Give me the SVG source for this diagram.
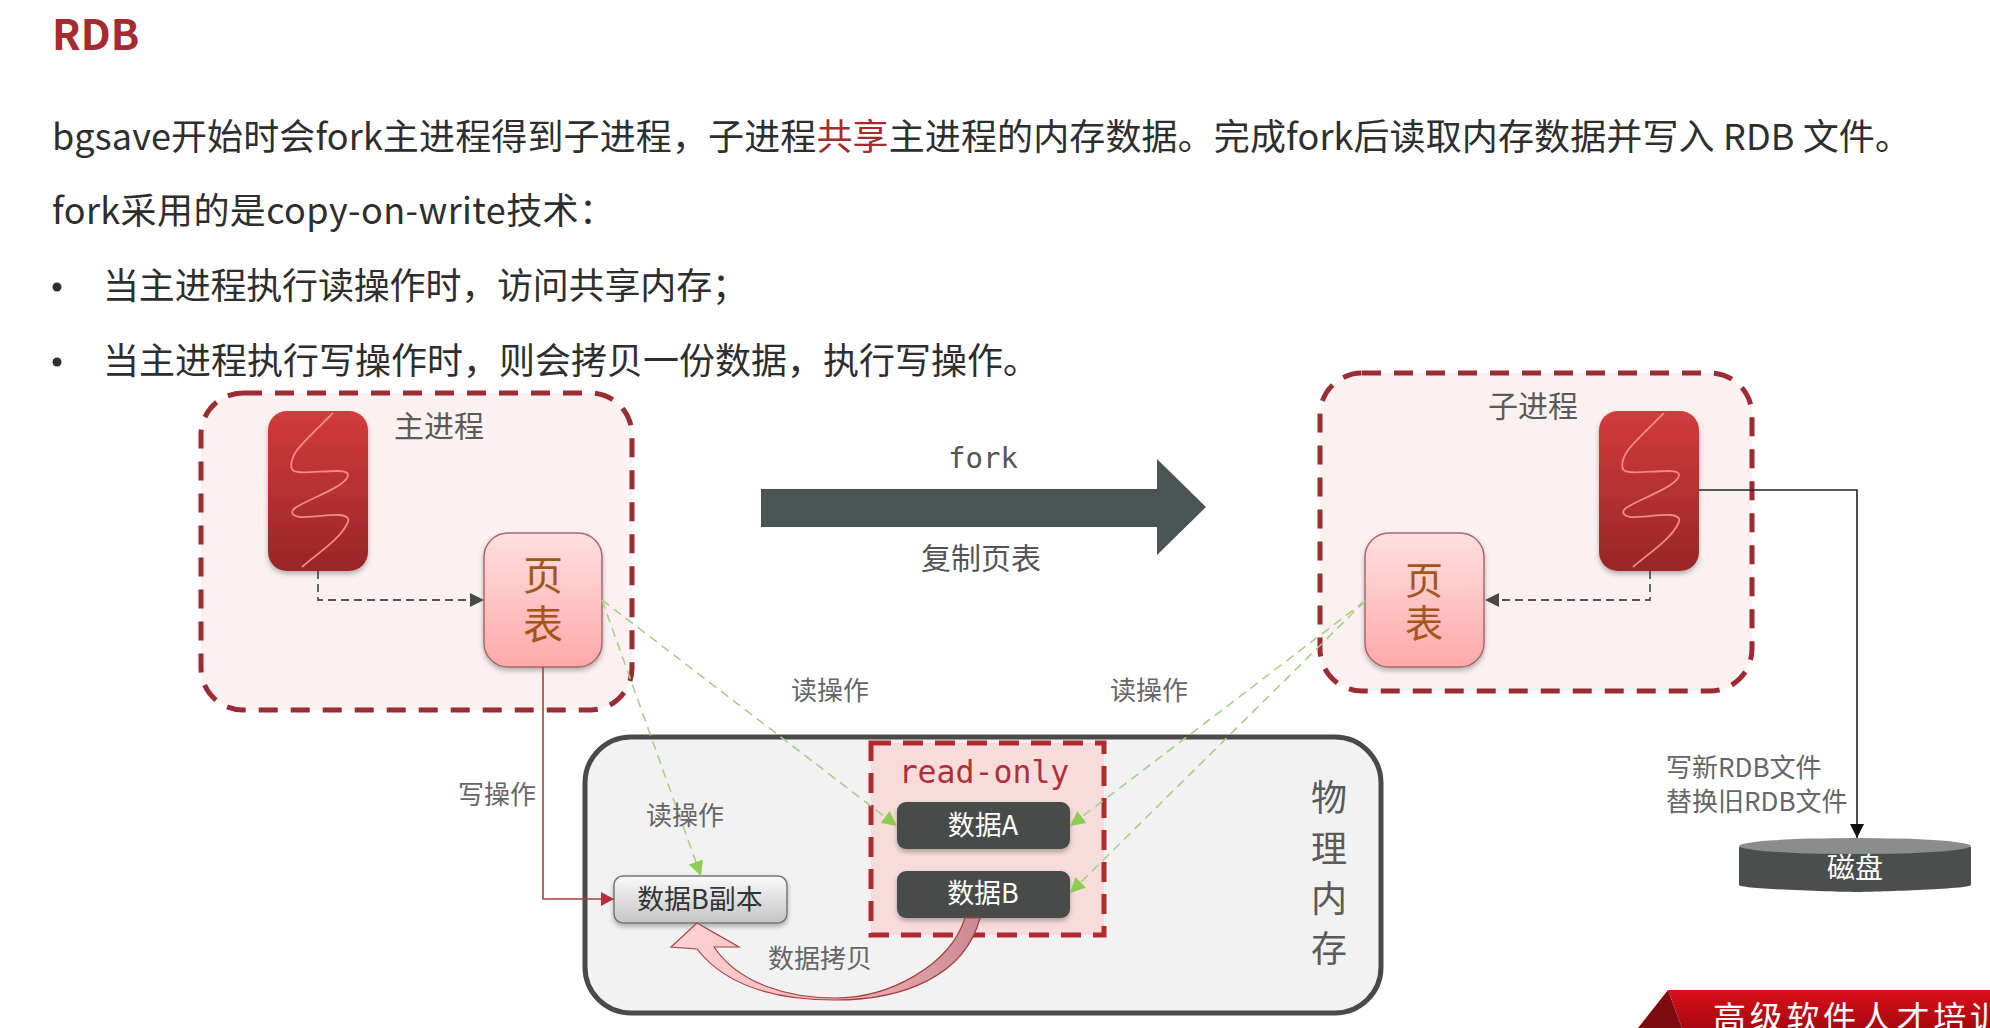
<svg xmlns="http://www.w3.org/2000/svg" width="1990" height="1028" viewBox="0 0 1990 1028">
<style>
text{font-family:"Noto Sans CJK SC","Noto Sans",sans-serif}
.body{font-size:36px;fill:#2e2e2e}
.lab{font-size:26px;fill:#666;text-anchor:middle}
.proc{font-size:30px;fill:#5a5a5a;text-anchor:middle}
.pt{font-size:40px;fill:#a4551c;writing-mode:vertical-rl}
.wh{font-size:27px;fill:#fff;text-anchor:middle}
.mono{font-family:"DejaVu Sans Mono","Liberation Mono",monospace;text-anchor:middle}
.dashbox{fill:#fbf1f0;stroke:#9c2b33;stroke-width:5;stroke-dasharray:19 13}
.ptbox{fill:url(#gPt);stroke:#a9686c;stroke-width:1.5;filter:url(#sh)}
.data{fill:#464b4a;filter:url(#sh)}
.green{fill:none;stroke:#a9cf8a;stroke-width:1.6;stroke-dasharray:9 6;marker-end:url(#mG)}
.grey{fill:none;stroke:#555;stroke-width:1.8;stroke-dasharray:8 5;marker-end:url(#mD)}
.dot{fill:#2e2e2e}
</style>
<defs>
<linearGradient id="gTh" x1="0" y1="0" x2="0" y2="1"><stop offset="0" stop-color="#d23b3b"/><stop offset="1" stop-color="#982628"/></linearGradient>
<linearGradient id="gPt" x1="0" y1="0" x2="0" y2="1"><stop offset="0" stop-color="#ffe0e0"/><stop offset="1" stop-color="#ffa8a8"/></linearGradient>
<linearGradient id="gCp" x1="0" y1="0" x2="0" y2="1"><stop offset="0" stop-color="#fafafa"/><stop offset="1" stop-color="#c4c4c4"/></linearGradient>
<linearGradient id="gCv" x1="0" y1="0" x2="1" y2="0"><stop offset="0" stop-color="#ffd4d4"/><stop offset="0.6" stop-color="#eeb0b4"/><stop offset="1" stop-color="#c98a90"/></linearGradient>
<linearGradient id="gBn" x1="0" y1="0" x2="0" y2="1"><stop offset="0" stop-color="#d90f18"/><stop offset="1" stop-color="#a80810"/></linearGradient>
<filter id="sh" x="-20%" y="-20%" width="140%" height="140%"><feDropShadow dx="0" dy="3" stdDeviation="2.5" flood-color="#000" flood-opacity="0.28"/></filter>
<marker id="mG" markerUnits="userSpaceOnUse" markerWidth="18" markerHeight="18" refX="15" refY="7.5" orient="auto"><path d="M0 0L15 7.5L0 15Z" fill="#8fcc4f"/></marker>
<marker id="mD" markerUnits="userSpaceOnUse" markerWidth="16" markerHeight="16" refX="14" refY="7" orient="auto"><path d="M0 0L14 7L0 14Z" fill="#4a4a4a"/></marker>
<marker id="mR" markerUnits="userSpaceOnUse" markerWidth="16" markerHeight="16" refX="13" refY="7" orient="auto"><path d="M0 0L13 7L0 14Z" fill="#b03038"/></marker>
<marker id="mK" markerUnits="userSpaceOnUse" markerWidth="16" markerHeight="16" refX="14" refY="7" orient="auto"><path d="M0 0L14 7L0 14Z" fill="#111"/></marker>
<g id="thread">
<rect x="0" y="0" width="100" height="160" rx="19" fill="url(#gTh)" filter="url(#sh)"/>
<path d="M65 2C50 17 36 30 29 39C24 46 22 54 24 58C26 64 50 60 69 60C78 60 82 62 79 67C72 78 40 88 27 97C22 101 24 105 32 106C45 107 60 103 72 104C80 105 82 108 79 113C72 128 50 142 34 156" fill="none" stroke="#f48a80" stroke-width="1.8"/>
</g>
</defs>

<rect width="1990" height="1028" fill="#fff"/>

<g id="heading">
<text x="52" y="50" font-size="42" font-weight="700" fill="#a62b2e">RDB</text>
<text class="body" x="52" y="150" textLength="1859">bgsave开始时会fork主进程得到子进程，子进程<tspan fill="#a62b2e">共享</tspan>主进程的内存数据。完成fork后读取内存数据并写入 RDB 文件。</text>
<text class="body" x="52" y="224" textLength="563">fork采用的是copy-on-write技术：</text>
<circle class="dot" cx="57" cy="287" r="4.5"/>
<text class="body" x="103" y="299" textLength="645">当主进程执行读操作时，访问共享内存；</text>
<circle class="dot" cx="57" cy="362" r="4.5"/>
<text class="body" x="103" y="374" textLength="936">当主进程执行写操作时，则会拷贝一份数据，执行写操作。</text>
</g>

<g id="main-process">
<rect class="dashbox" x="201" y="393" width="431" height="317" rx="42"/>
<text class="proc" x="439" y="437">主进程</text>
</g>
<g id="main-thread"><use href="#thread" x="268" y="411"/></g>
<g id="main-page-table">
<rect class="ptbox" x="484" y="533" width="118" height="134" rx="24"/>
<text class="pt" x="543" y="555" letter-spacing="9">页表</text>
</g>

<g id="child-process">
<rect class="dashbox" x="1320" y="373" width="432" height="318" rx="42"/>
<text class="proc" x="1533" y="417">子进程</text>
</g>
<g id="child-thread"><use href="#thread" x="1599" y="411"/></g>
<g id="child-page-table">
<rect class="ptbox" x="1365" y="533" width="119" height="134" rx="24"/>
<text class="pt" x="1424" y="561" letter-spacing="5" style="font-size:38px">页表</text>
</g>

<g id="fork-arrow">
<path d="M761 489H1157V459L1206 507L1157 555V527H761Z" fill="#4a5553"/>
<text class="mono" x="983" y="468" font-size="29" fill="#555">fork</text>
<text class="lab" x="981" y="569" style="font-size:30px;fill:#555">复制页表</text>
</g>

<g id="physical-memory">
<rect x="585" y="737" width="796" height="276" rx="46" fill="#f2f2f2" stroke="#4a4a4a" stroke-width="5"/>
<text class="proc" x="1329" y="811" style="font-size:36px">物<tspan x="1329" dy="51">理</tspan><tspan x="1329" dy="50">内</tspan><tspan x="1329" dy="50">存</tspan></text>
</g>

<g id="read-only">
<rect x="871" y="743" width="233" height="192" fill="#f8dcdc" stroke="#b02a30" stroke-width="5" stroke-dasharray="20 12"/>
<text class="mono" x="984" y="783" font-size="31.5" fill="#b03038">read-only</text>
</g>
<g id="data-a">
<rect class="data" x="897" y="802" width="173" height="47" rx="9"/>
<text class="wh" x="983" y="835">数据A</text>
</g>
<g id="data-b">
<rect class="data" x="897" y="871" width="173" height="47" rx="9"/>
<text class="wh" x="983" y="903">数据B</text>
</g>
<g id="data-b-copy">
<rect x="614" y="876" width="173" height="47" rx="9" fill="url(#gCp)" stroke="#777" stroke-width="1.5" filter="url(#sh)"/>
<text x="700" y="909" font-size="27" fill="#333" text-anchor="middle">数据B副本</text>
</g>

<g id="disk">
<path d="M1739 847V885C1739 889 1840 892 1855 892C1870 892 1971 889 1971 885V847Z" fill="#4a4f4e"/>
<ellipse cx="1855" cy="846" rx="116" ry="8" fill="#8b8d8d"/>
<text class="wh" x="1855" y="878" style="font-size:28px">磁盘</text>
</g>

<g id="connectors">
<path class="grey" d="M318 571V600H484"/>
<path class="grey" d="M1650 571V600H1485"/>
<path class="green" d="M602 600L897 826"/>
<path class="green" d="M602 600L701 876"/>
<path class="green" d="M1365 601L1070 826"/>
<path class="green" d="M1365 601L1070 893"/>
<path d="M543 667V899H614" fill="none" stroke="#a64040" stroke-width="1.6" marker-end="url(#mR)"/>
<path d="M1699 490H1857V838" fill="none" stroke="#222" stroke-width="1.6" marker-end="url(#mK)"/>
<path d="M965 918C950 965 890 998 835 998C790 998 740 985 714 947L739 947L697 923L671 947L697 949C725 985 775 1000 835 1000C905 1000 965 975 980 918Z" fill="url(#gCv)" stroke="#a64040" stroke-width="1.2"/>
</g>

<g id="labels">
<text class="lab" x="830" y="700">读操作</text>
<text class="lab" x="1149" y="700">读操作</text>
<text class="lab" x="685" y="825">读操作</text>
<text class="lab" x="497" y="804">写操作</text>
<text class="lab" x="820" y="968">数据拷贝</text>
<text class="lab" x="1666" y="777" style="text-anchor:start">写新RDB文件</text>
<text class="lab" x="1666" y="811" style="text-anchor:start">替换旧RDB文件</text>
</g>

<g id="banner">
<path d="M1638 1028L1668 990L1682 1028Z" fill="#7d0a0e"/>
<path d="M1668 990H1990V1028H1682Z" fill="url(#gBn)"/>
<text x="1713" y="1030" font-size="33" fill="#fff" letter-spacing="3.7">高级软件人才培训</text>
</g>
</svg>
